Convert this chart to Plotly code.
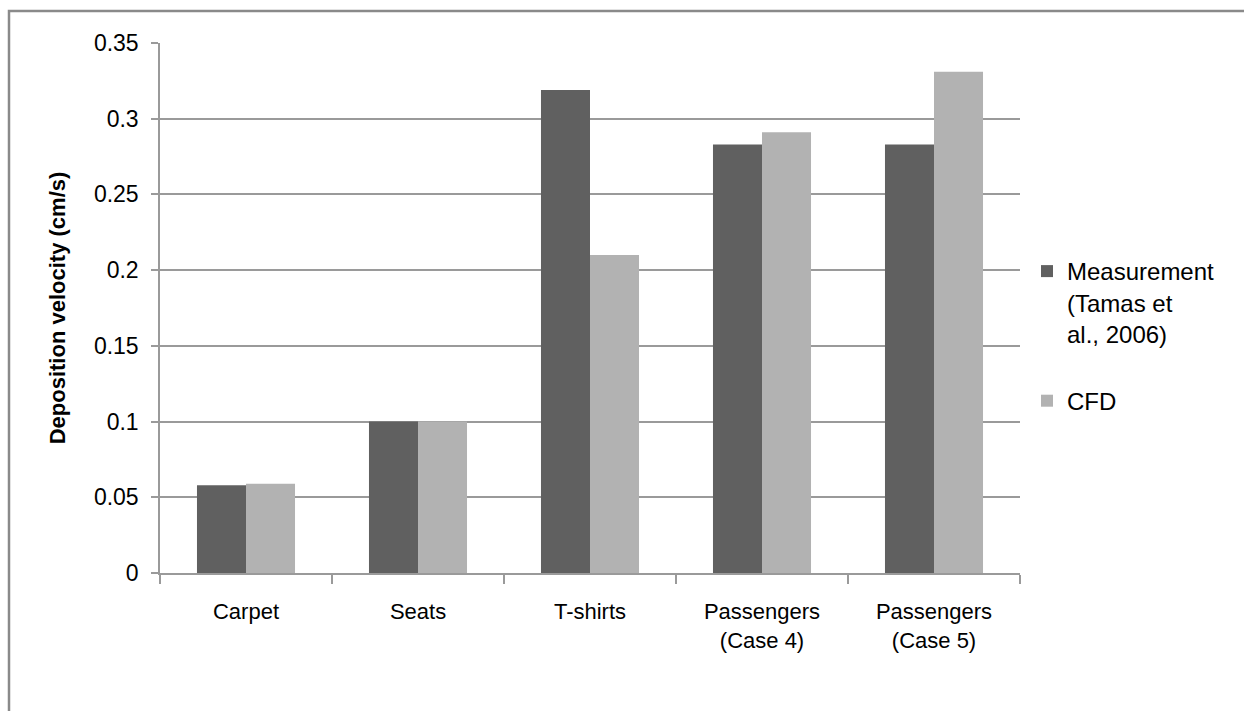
import plotly.graph_objects as go

# Deposition velocity per surface, measured vs simulated
categories = ["Carpet", "Seats", "T-shirts", "Passengers<br>(Case 4)", "Passengers<br>(Case 5)"]
measurement = [0.058, 0.100, 0.319, 0.283, 0.283]
cfd = [0.059, 0.100, 0.210, 0.291, 0.331]
series_names = ["Measurement<br>(Tamas et<br>al., 2006)", "CFD"]
y_ticks = [0, 0.05, 0.1, 0.15, 0.2, 0.25, 0.3, 0.35]
y_tick_text = ["0", "0.05", "0.1", "0.15", "0.2", "0.25", "0.3", "0.35"]

FONT = "Liberation Sans, Arial, sans-serif"
DARK = "#606060"
LIGHT = "#b2b2b2"
GRID = "#9a9a9a"

fig = go.Figure()
fig.add_trace(go.Bar(x=categories, y=measurement, name=series_names[0],
                     marker=dict(color=DARK, line=dict(width=0)),
                     legendgroup="a"))
fig.add_trace(go.Bar(x=categories, y=cfd, name=series_names[1],
                     marker=dict(color=LIGHT, line=dict(width=0)),
                     legendgroup="b"))

W, H = 1244, 711
L, R, T, B = 160, 224, 43, 138
pw, ph = W - L - R, H - T - B

fig.update_layout(
    width=W, height=H,
    margin=dict(l=L, r=R, t=T, b=B, pad=0),
    paper_bgcolor="white", plot_bgcolor="white",
    barmode="group", bargap=0.43, bargroupgap=0,
    font=dict(family=FONT, size=22, color="#000000"),
    showlegend=True,
    legend=dict(
        x=1 + (1027 - 1020) / pw, xanchor="left",
        y=(573 - 249) / ph, yanchor="top",
        font=dict(family=FONT, size=24, color="#000000"),
        tracegroupgap=33, bgcolor="rgba(0,0,0,0)",
        itemwidth=30, valign="top",
    ),
    xaxis=dict(
        type="category", showgrid=False, showline=True, linecolor=GRID, linewidth=1.5,
        ticks="outside", tickson="boundaries", ticklen=9, tickcolor=GRID, tickwidth=1.5,
        tickfont=dict(family=FONT, size=22, color="#000000"),
        ticklabelstandoff=18,
    ),
    yaxis=dict(
        range=[0, 0.35], tickvals=y_ticks, ticktext=y_tick_text,
        showgrid=True, gridcolor=GRID, gridwidth=1.5,
        showline=True, linecolor=GRID, linewidth=1.5,
        ticks="outside", ticklen=7, tickcolor=GRID, tickwidth=1.5,
        tickfont=dict(family=FONT, size=23, color="#000000"),
        ticklabelstandoff=8,
        zeroline=False,
        title=dict(text="<b>Deposition velocity (cm/s)</b>",
                   font=dict(family=FONT, size=22, color="#000000"), standoff=22),
    ),
    shapes=[
        # outer frame (top and left edges visible)
        dict(type="rect", xref="paper", yref="paper",
             x0=(9 - L) / pw, x1=(W + 20 - L) / pw,
             y0=-(B + 20) / ph, y1=(H - B - 11) / ph,
             line=dict(color="#8a8a8a", width=2.5), fillcolor="rgba(0,0,0,0)"),
    ],
)

fig.write_html("out.html")
